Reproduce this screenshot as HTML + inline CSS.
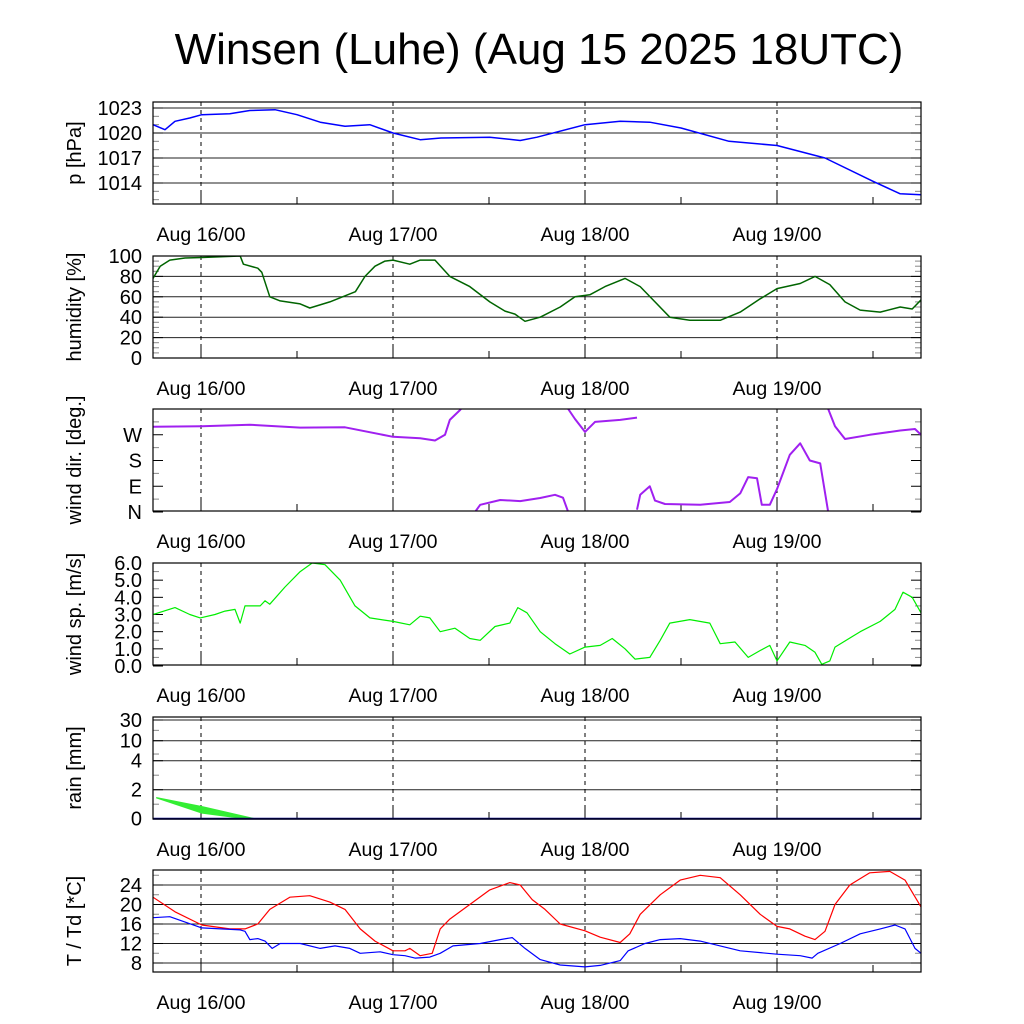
<!DOCTYPE html>
<html><head><meta charset="utf-8"><style>
body{margin:0;background:#fff}
svg{display:block;font-family:"Liberation Sans",sans-serif}
</style></head><body>
<svg id="c" width="1024" height="1024" xmlns="http://www.w3.org/2000/svg">
<rect width="1024" height="1024" fill="#fff"/>
<text x="539" y="64" font-size="44" text-anchor="middle">Winsen (Luhe) (Aug 15 2025 18UTC)</text>
</svg>
<script>
// time in hours since Aug 15 18UTC
const dayLabels = ["Aug 16/00","Aug 17/00","Aug 18/00","Aug 19/00"];
const dayHours = [6,30,54,78];

const pT = [0,1.5,2.75,4.6,6.1,9.6,12.1,15.25,18,20.9,24,27.1,30,33.4,36,42.1,45.9,48,54,58.4,62.1,66,72,78,84,90,93.4,96];
const pV = [1021,1020.4,1021.4,1021.8,1022.2,1022.3,1022.7,1022.8,1022.2,1021.3,1020.8,1021,1020,1019.2,1019.4,1019.5,1019.1,1019.5,1021,1021.4,1021.3,1020.6,1019,1018.5,1017,1014.2,1012.7,1012.6];

const hT = [0,0.9,2.1,4,6.1,10.9,11.3,13.1,13.6,14.6,15.9,18.4,19.6,22.1,25.3,26.5,27.75,29,30,32.1,33.4,35.25,37.1,39.6,42.1,44,45.25,46.5,48.4,50.9,52.75,54.6,56.5,59,60.9,62.75,64.6,67.1,70.9,73.4,75.9,78,80.9,82.75,84.6,86.5,88.4,90.9,93.4,94.9,96];
const hV = [78,90,96,98,98.5,100,92,88,84,60,56,53,49,55,65,80,90,95,96,92,96,96,80,70,55,46,43,36,40,50,60,62,70,78,70,55,40,37,37,45,58,68,73,80,72,55,47,45,50,48,57];

// wind direction, null = break (wrap-around)
const dT = [0,6.1,12.1,18.4,24,30,33.4,35.25,36.5,37.1,38.4,38.75,null,40.25,40.9,43.4,45.9,48.4,50.25,51.25,51.9,null,51.9,52.75,54,55.25,58.4,60.5,null,60.5,60.9,62.1,62.75,64,68.4,72.1,73.4,74.4,75.5,76.1,77.1,78,79.6,80.9,82.1,83.4,84.4,null,84.4,85.25,86.5,89.6,93.4,95.25,96];
const dV = [298,300,305,295,296,263,258,250,270,322,357,370,null,0,25,42,38,49,60,50,0,null,360,325,280,315,322,330,null,8,60,90,40,28,25,35,65,122,118,25,25,80,200,240,180,170,0,null,360,300,255,270,285,290,270];

const sT = [0,2.75,4.6,5.9,7.75,9,10.25,10.9,11.5,13.4,14,14.6,16.5,18.4,19.9,21.5,23.4,25.25,27.1,30,32.1,33.4,34.6,35.9,37.75,39.6,40.9,42.75,44.6,45.6,46.75,48.4,50.25,52.1,54,55.9,57.4,59,60.25,62.1,63.4,64.6,67.1,69.6,70.9,72.75,74.4,75.9,77.1,78,79.6,81.5,82.75,83.6,84.6,85.25,88.4,90.9,92.75,93.75,94.9,96];
const sV = [3.0,3.4,3.0,2.8,3.0,3.2,3.3,2.5,3.5,3.5,3.8,3.6,4.6,5.5,6.0,5.9,5.0,3.5,2.8,2.6,2.4,2.9,2.8,2.0,2.2,1.6,1.5,2.3,2.5,3.4,3.1,2.0,1.3,0.7,1.1,1.2,1.6,1.0,0.4,0.5,1.5,2.5,2.7,2.5,1.3,1.4,0.5,0.9,1.2,0.3,1.4,1.2,0.8,0.1,0.3,1.1,2.0,2.6,3.3,4.3,4.0,3.1];

const rT = [0.4,6.1,13];
const rUpper = [1.5,0.88,0];
const rLowerT = [0.4,6.1,11];
const rLower = [1.4,0.35,0];

const tT = [0,2.75,6.1,9.6,11.5,13.1,14.6,17.1,19.6,22.1,24,25.9,27.75,30,31.5,32.1,33.4,34.9,35.9,37.1,39.6,42.1,44.6,45.9,47.4,49,50.9,54,55.9,58.4,59.6,60.9,63.4,65.9,68.4,70.9,73.4,75.9,78,79.6,81.5,82.75,84,85.25,87.1,89.6,92.1,94,96];
const tV = [21.5,18.5,15.8,15,15,16,19,21.5,21.8,20.5,19,15,12.5,10.5,10.5,11,9.5,10,15,17,20,23,24.5,24,21,19,16,14.6,13.3,12.2,14,18,22,25,26,25.5,22,18,15.5,15,13.5,12.8,14.5,20,24,26.5,26.8,25,19.5];
const tdT = [0,2.1,6.1,10.9,11.5,12.1,13.1,14,14.9,15.9,18.4,20.9,22.75,24.6,25.9,28.4,30,31.5,32.75,34.6,35.9,37.5,40.9,43.4,44.9,46.5,48.4,50.9,54,55.9,58.4,59.4,61.5,63.4,65.9,68.4,70.9,73.4,78,80.9,82.4,83.1,85.9,88.4,90.9,92.75,94,95.25,96];
const tdV = [17.3,17.5,15.2,14.8,14.5,12.8,13,12.5,11,12,12,11,11.5,11,10,10.3,9.7,9.5,9,9.2,10,11.5,12,12.8,13.2,11,8.7,7.6,7.2,7.5,8.5,10.5,12,12.8,13,12.5,11.5,10.5,9.8,9.5,9,10,12,14,15,15.8,15,11,10];

const pTicks = [1014,1017,1020,1023];
const hTicks = [0,20,40,60,80,100];
const dTicks = [0,90,180,270];
const dTickLabels = ["N","E","S","W"];
const sTicks = [0,1,2,3,4,5,6];
const rTicks = [0,2,4,10,30];
const tTicks = [8,12,16,20,24];

const NS="http://www.w3.org/2000/svg";
const svg=document.getElementById('c');
const X0=153,X1=921;
const x=t=>X0+(t/96)*(X1-X0);
function el(tag,attrs,parent){const e=document.createElementNS(NS,tag);for(const k in attrs)e.setAttribute(k,attrs[k]);(parent||svg).appendChild(e);return e;}
function lin(d0,d1,r0,r1){return v=>r0+(v-d0)/(d1-d0)*(r1-r0);}

function panel(name,top,ytitle,yfn,ticks,labels,grid,minor){
  const g=el('g',{});
  
  
  const bot=top+102;
  ticks.forEach((v,i)=>{
    const yy=yfn(v);
    if(grid){const l=el('line',{x1:X0,x2:X1,y1:yy,y2:yy,stroke:'#222','stroke-width':1},g);
      }
    el('line',{x1:X0,x2:X0+10,y1:yy,y2:yy,stroke:'#000'},g);
    el('line',{x1:X1-10,x2:X1,y1:yy,y2:yy,stroke:'#000'},g);
    const tx=el('text',{x:142,y:yy+7,'font-size':20,'text-anchor':'end'},g);
    
    tx.textContent=labels?labels[i]:String(v);
  });
  minor.forEach(v=>{const yy=yfn(v);if(yy>top&&yy<bot){el('line',{x1:X0,x2:X0+6,y1:yy,y2:yy,stroke:'#888'},g);el('line',{x1:X1-6,x2:X1,y1:yy,y2:yy,stroke:'#888'},g);}});
  dayHours.forEach((h,i)=>{
    const xx=x(h);
    el('line',{x1:xx,x2:xx,y1:top,y2:bot,stroke:'#000','stroke-dasharray':'4,4'},g);
    el('line',{x1:xx,x2:xx,y1:bot-12,y2:bot,stroke:'#000'},g);
    const tx=el('text',{x:xx,y:bot+37,'font-size':19.5,'text-anchor':'middle'},g);
    
    tx.textContent=dayLabels[i];
    const xm=x(h+12);
    if(xm<X1) el('line',{x1:xm,x2:xm,y1:bot-7,y2:bot,stroke:'#000'},g);
  });
  const t=el('text',{x:0,y:0,'font-size':20,'text-anchor':'middle',transform:`translate(81,${top+51}) rotate(-90)`},g);
  
  t.textContent=ytitle;
  return {g,top,bot};
}
function frame(p,name){const r=el('rect',{x:X0,y:p.top,width:X1-X0,height:102,fill:'none',stroke:'#000','stroke-width':1.2});
  }
function line(ts,vs,yfn,color,w,name,clipId){
  let d='',pen=false;
  for(let i=0;i<ts.length;i++){
    if(ts[i]===null||vs[i]===null){pen=false;continue;}
    d+=(pen?'L':'M')+x(ts[i]).toFixed(1)+','+yfn(vs[i]).toFixed(1);pen=true;
  }
  const p=el('path',{d,fill:'none',stroke:color,'stroke-width':w,'stroke-linejoin':'round','clip-path':'url(#'+clipId+')'});
  
}
const defs=el('defs',{});
function clip(id,top){const c=el('clipPath',{id},defs);el('rect',{x:X0,y:top,width:X1-X0,height:102},c);}

const tops=[102,256,409,563,717,870];
tops.forEach((t,i)=>clip('cl'+i,t));

const yP=lin(1014,1023,183,108);
const P=panel('pressure',tops[0],'p [hPa]',yP,pTicks,null,true,[1012,1013,1015,1016,1018,1019,1021,1022]);
line(pT,pV,yP,'#0000ff',1.5,'pressure-line','cl0');frame(P,'pressure');

const yH=lin(0,100,358,256);
const H=panel('humidity',tops[1],'humidity [%]',yH,hTicks,null,true,[5,10,15,25,30,35,45,50,55,65,70,75,85,90,95]);
line(hT,hV,yH,'#006400',1.5,'humidity-line','cl1');frame(H,'humidity');

const yD=lin(0,360,512,409);
const D=panel('wind-dir',tops[2],'wind dir. [deg.]',yD,dTicks,dTickLabels,false,[45,135,225,315]);
line(dT,dV,yD,'#a020f0',2,'wind-direction-line','cl2');frame(D,'wind-dir');

const yS=lin(0,6,666,563);
const S=panel('wind-speed',tops[3],'wind sp. [m/s]',yS,sTicks,sTicks.map(v=>v.toFixed(1)),false,[0.5,1.5,2.5,3.5,4.5,5.5]);
line(sT,sV,yS,'#00ee00',1.2,'wind-speed-line','cl3');frame(S,'wind-speed');

const rDom=[0,2,4,10,30], rRng=[818.7,789.7,760.7,740.7,720];
function yR(v){for(let i=0;i<rDom.length-1;i++){if(v<=rDom[i+1])return rRng[i]+(v-rDom[i])/(rDom[i+1]-rDom[i])*(rRng[i+1]-rRng[i]);}return rRng[rRng.length-1];}
const R=panel('rain',tops[4],'rain [mm]',yR,rTicks,null,true,[1,3,6,20]);
{
  let d='M'+x(rT[0])+','+yR(rUpper[0]);
  for(let i=1;i<rT.length;i++)d+='L'+x(rT[i])+','+yR(rUpper[i]);
  for(let i=rLowerT.length-1;i>=0;i--)d+='L'+x(rLowerT[i])+','+yR(rLower[i]);
  const a=el('path',{d:d+'Z',fill:'#33ee33',stroke:'none'});
  
  const b=el('line',{x1:X0,x2:X1,y1:yR(0),y2:yR(0),stroke:'#00008b','stroke-width':2});
  
}
frame(R,'rain');

const yT=lin(8,24,963,885);
const T=panel('temperature',tops[5],'T / Td [*C]',yT,tTicks,null,true,[6,10,14,18,22,26,28]);
line(tT,tV,yT,'#ff0000',1.2,'temperature-line','cl5');
line(tdT,tdV,yT,'#0000ff',1.2,'dewpoint-line','cl5');
frame(T,'temperature');
</script>
</body></html>
